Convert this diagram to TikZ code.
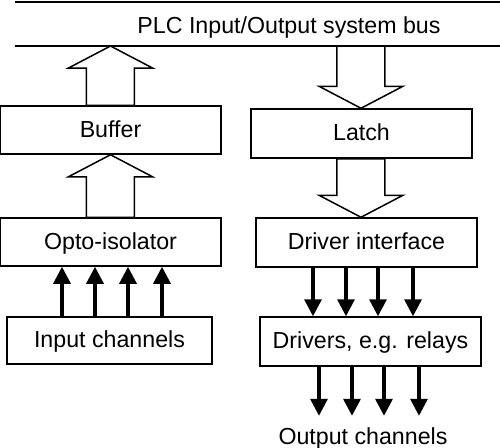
\documentclass[tikz,border=0pt]{standalone}
\usepackage{fontspec}
\setmainfont{Liberation Sans}
\usetikzlibrary{arrows.meta,calc}

\tikzset{
  box/.style={draw,line width=0.75pt,minimum width=110.5pt,minimum height=24pt,inner sep=0pt,text height=0.72em,text depth=0pt},
  hollow/.style={draw,line width=0.75pt,line join=miter},
  sig/.style={line width=1.6pt,-{Triangle[width=8.5pt,length=8.5pt]}},
  busline/.style={line width=1pt}
}

\newcommand{\hollowarrow}[2]{%
  \draw[hollow] let \p1=(#1), \p2=(#2), \n1={sign(\y2-\y1)} in
    (\x1-12pt,\y1) -- (\x1-12pt,\y2-\n1*11pt) -- (\x1-21pt,\y2-\n1*11pt) -- (\x1,\y2)
    -- (\x1+21pt,\y2-\n1*11pt) -- (\x1+12pt,\y2-\n1*11pt) -- (\x1+12pt,\y1) -- cycle;}

\begin{document}
\begin{tikzpicture}[x=0.5pt,y=-0.5pt,font=\fontsize{11.6}{14}\selectfont]
\useasboundingbox (0,0) rectangle (500,447);
\draw[busline] (15,2) -- (500,2);
\coordinate (busL) at (15,46);
\coordinate (busR) at (500,46);
\draw[busline] (busL) -- (busR);
\node[anchor=base] (bus) at (289,33) {PLC Input/Output system bus};

\node[box] (buf) at (110.5,130) {Buffer};
\node[box] (opto) at (110.5,242) {Opto-isolator};
\node[box,minimum width=102.5pt,minimum height=23.5pt] (inp) at (109.5,340.5) {Input channels};

\node[box,minimum height=24.5pt] (latch) at (361.5,133.5) {Latch};
\node[box,minimum height=24.5pt] (dif) at (366.5,242.5) {Driver interface};
\node[box,minimum height=24.5pt] (drv) at (370.5,341.5) {Drivers, e.g. relays};
\node[anchor=base,inner xsep=0pt,inner ysep=5.5pt] (out) at (363,444) {Output channels};

\hollowarrow{buf.north}{buf.north |- busL}
\hollowarrow{opto.north}{buf.south}
\hollowarrow{361,0 |- busL}{361,0 |- latch.north}
\hollowarrow{361,0 |- latch.south}{361,0 |- dif.north}

\foreach \x in {62,95,128,162}
  \draw[sig] (\x,0 |- inp.north) -- (\x,0 |- opto.south);
\foreach \x in {313,346,378,413}
  \draw[sig] (\x,0 |- dif.south) -- (\x,0 |- drv.north);
\foreach \x in {319,352,384,419}
  \draw[sig] (\x,0 |- drv.south) -- (\x,0 |- out.north);
\end{tikzpicture}
\end{document}
